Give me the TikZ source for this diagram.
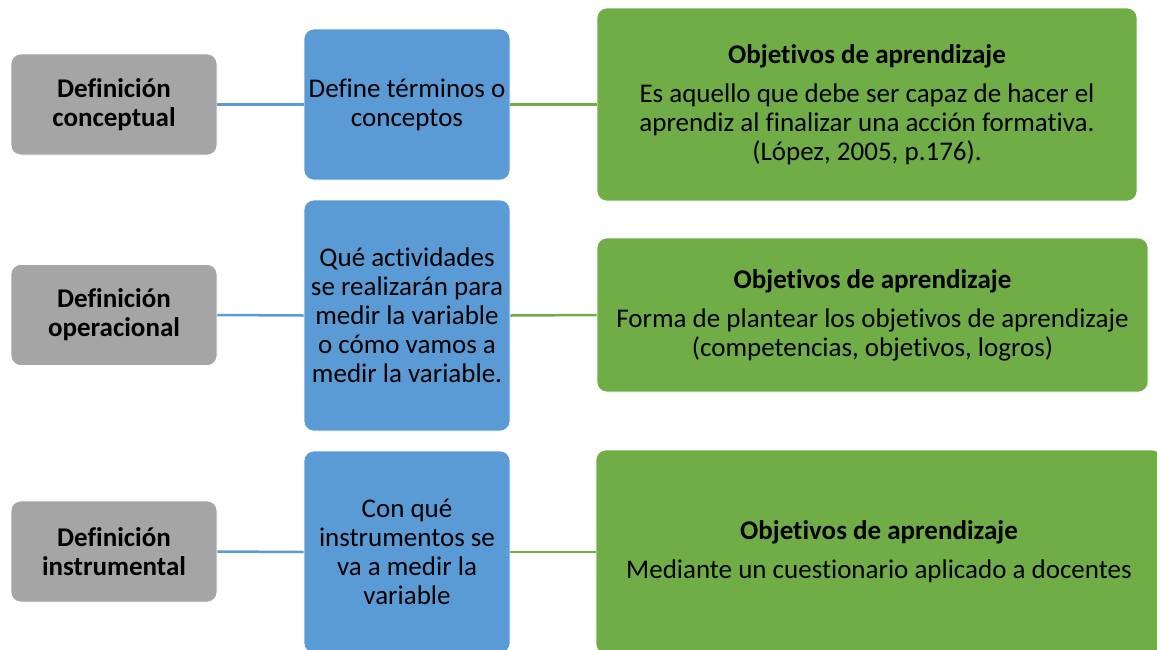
\documentclass[tikz,border=0pt]{standalone}
\usepackage{fontspec}
\setmainfont{Carlito}[Ligatures={NoCommon}]
\definecolor{gbox}{HTML}{A5A5A5}
\definecolor{bbox}{HTML}{5B9BD5}
\definecolor{vbox}{HTML}{70AD47}
\begin{document}
\begin{tikzpicture}[x=1pt,y=-1pt,
  base/.style={rectangle, rounded corners=10pt, draw=white, line width=0.6pt, align=center, inner sep=0pt, font=\fontsize{27}{29}\selectfont, text=black},
  graybox/.style={base, fill=gbox, minimum width=206pt, minimum height=101pt, font=\fontsize{27}{29}\selectfont\bfseries},
  bluebox/.style={base, fill=bbox, minimum width=206pt},
  greenbox/.style={base, fill=vbox},
  bline/.style={draw=bbox, line width=2.5pt},
  gline/.style={draw=vbox, line width=2.5pt}]
\useasboundingbox (0,0) rectangle (1157,649);
\clip (0,0) rectangle (1157,649);
% row 1
\node[graybox] (g1) at (114,104.5) {Definición\\conceptual};
\node[bluebox, minimum height=151pt] (b1) at (407,104.5) {Define términos o\\conceptos};
\node[greenbox, minimum width=540pt, minimum height=193pt] (v1) at (867,104.5) {\textbf{Objetivos de aprendizaje}\\[10pt]Es aquello que debe ser capaz de hacer el\\aprendiz al finalizar una acción formativa.\\(López, 2005, p.176).};
% row 2
\node[graybox] (g2) at (114,315) {Definición\\operacional};
\node[bluebox, minimum height=231pt] (b2) at (407,315.5) {Qué actividades\\se realizarán para\\medir la variable\\o cómo vamos a\\medir la variable.};
\node[greenbox, minimum width=551pt, minimum height=154pt] (v2) at (872.5,315) {\textbf{Objetivos de aprendizaje}\\[10pt]Forma de plantear los objetivos de aprendizaje\\(competencias, objetivos, logros)};
% row 3
\node[graybox] (g3) at (114,551.5) {Definición\\instrumental};
\node[bluebox, minimum height=202pt] (b3) at (407,552) {Con qué\\instrumentos se\\va a medir la\\variable};
\node[greenbox, minimum width=566pt, minimum height=204pt] (v3) at (879,552) {\textbf{Objetivos de aprendizaje}\\[10pt]Mediante un cuestionario aplicado a docentes};
% connectors
\draw[bline] (g1.east) -- (b1.west);
\draw[gline] (b1.east) -- (v1.west);
\draw[bline] (g2.east) -- (b2.west);
\draw[gline] (b2.east) -- (v2.west);
\draw[bline] (g3.east) -- (b3.west);
\draw[gline] (b3.east) -- (v3.west);
\end{tikzpicture}
\end{document}
